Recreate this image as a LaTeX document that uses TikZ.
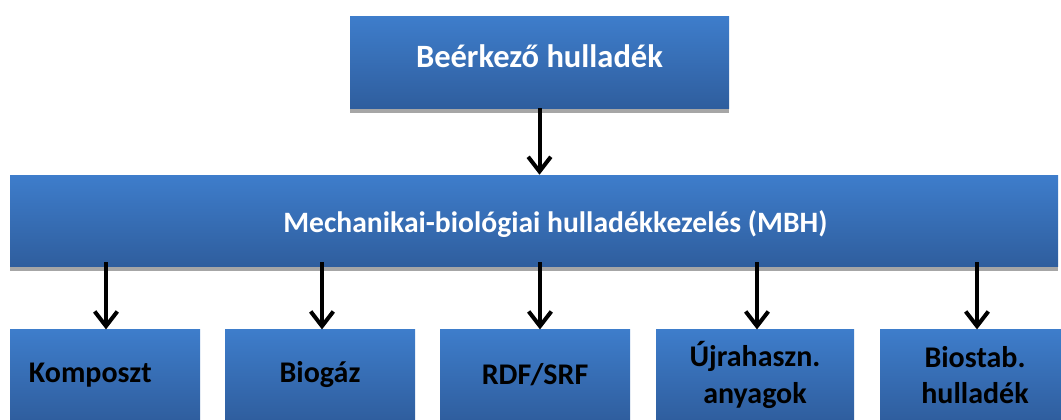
\documentclass[tikz,border=0pt]{standalone}
\usepackage{fontspec}
\setmainfont{Carlito}
\usetikzlibrary{arrows.meta,shadows}
\definecolor{boxtop}{HTML}{3E7DCB}
\definecolor{boxbot}{HTML}{2F5E9E}
\begin{document}
\begin{tikzpicture}[x=0.75pt,y=-0.75pt,
    blok/.style={rectangle,inner sep=0pt,top color=boxtop,bottom color=boxbot,
      drop shadow={shadow xshift=0pt,shadow yshift=-3.5pt,fill=black!35,opacity=1},
      font=\bfseries\fontsize{22.5}{27.5}\selectfont,align=center},
    felirat/.style={font=\bfseries\fontsize{#1}{27.5}\selectfont,text=white},
    felso/.style={blok,minimum width=284.25pt,minimum height=69pt},
    kozep/.style={blok,minimum width=786pt,minimum height=68.25pt},
    also/.style={blok,text=black,minimum height=68pt},
    nyil/.style={line width=3pt,-{Straight Barb[length=11pt,width=17pt,line width=3pt]}}]
    \useasboundingbox (0,0) rectangle (1061,419);
    % boxes
    \node[felso,label={[felirat=24.4,yshift=4pt]center:Beérkező hulladék}] (bejovo) at (539.5,62) {};
    \node[kozep,label={[felirat=22.2,xshift=16pt,yshift=-2.5pt]center:Mechanikai-biológiai hulladékkezelés (MBH)}] (mbh) at (534,220.5) {};
    \node[also,minimum width=142.5pt,label={[xshift=-11pt,font=\bfseries\fontsize{22.5}{27.5}\selectfont]center:Komposzt}] (komposzt) at (105,375) {};
    \node[also,minimum width=142.5pt] (biogaz) at (320,375) {Biogáz};
    \node[also,minimum width=142.5pt] (rdf) at (535,375) {RDF/SRF};
    \node[also,minimum width=148.5pt] (ujra) at (755,375) {Újrahaszn.\\anyagok};
    \node[also,minimum width=142.5pt] (biostab) at (975,375) {Biostab.\\hulladék};
    % arrows
    \draw[nyil] (bejovo.south) -- (bejovo.south |- mbh.north);
    \draw[nyil] (mbh.south -| komposzt.north) ++(1,-4) coordinate (k1) -- (komposzt.north -| k1);
    \draw[nyil] (mbh.south -| biogaz.north) ++(2,-4) coordinate (b1) -- (biogaz.north -| b1);
    \draw[nyil] (mbh.south -| rdf.north) ++(5,-4) coordinate (r1) -- (rdf.north -| r1);
    \draw[nyil] (mbh.south -| ujra.north) ++(2,-4) coordinate (u1) -- (ujra.north -| u1);
    \draw[nyil] (mbh.south -| biostab.north) ++(2,-4) coordinate (s1) -- (biostab.north -| s1);
\end{tikzpicture}
\end{document}
